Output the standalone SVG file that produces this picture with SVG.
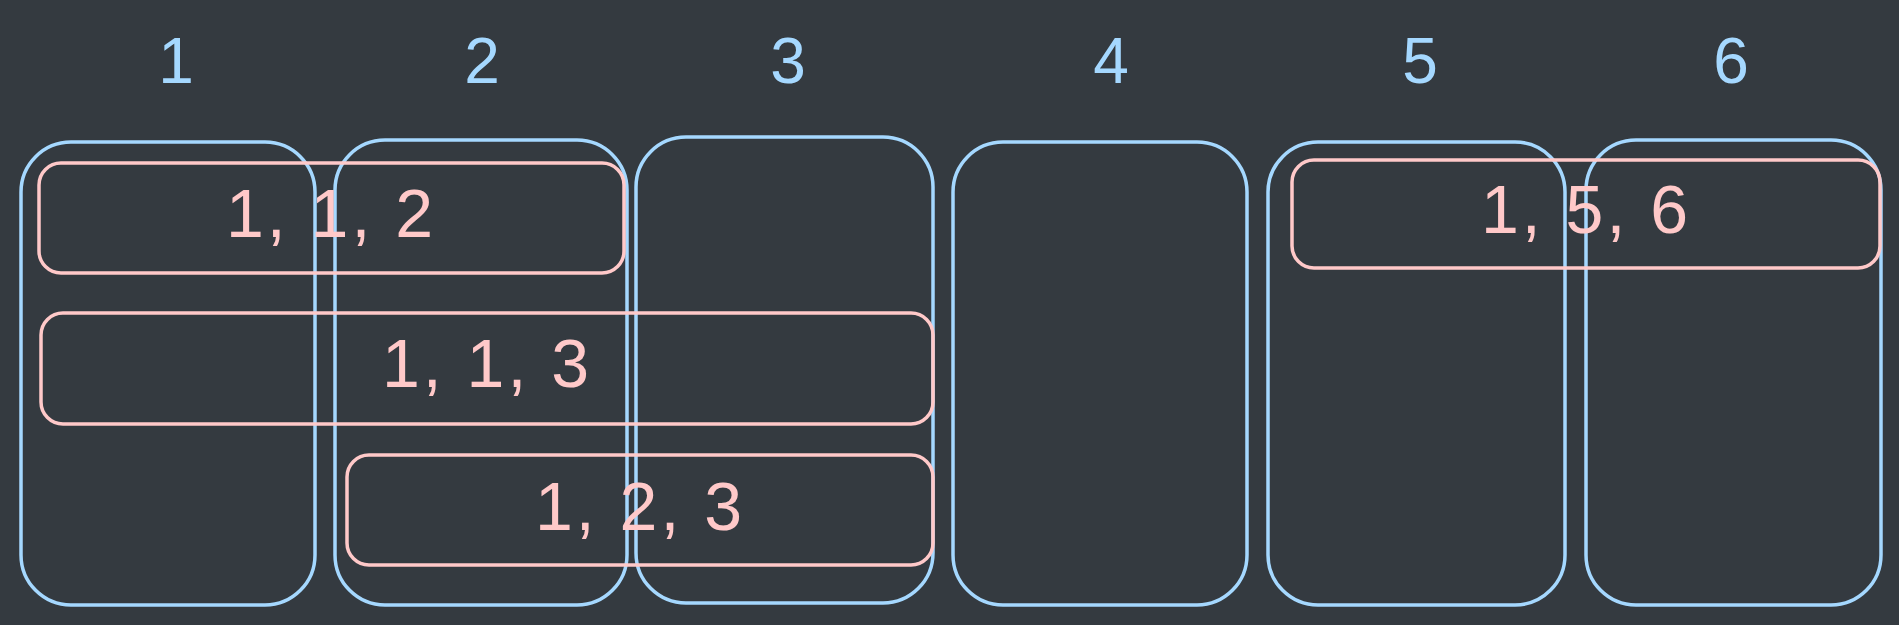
<svg xmlns="http://www.w3.org/2000/svg" width="1899" height="625" viewBox="0 0 1899 625">
<style>
.bg{fill:#343a40}
.col{fill:none;stroke:#a5d8ff;stroke-width:3.5}
.grp{fill:none;stroke:#ffc9c9;stroke-width:3.5}
.title{fill:#a5d8ff;font-family:"Liberation Sans",Arial,sans-serif;font-size:64px;text-anchor:middle}
.lbl{fill:#ffc9c9;font-family:"Liberation Sans",Arial,sans-serif;font-size:68px;text-anchor:middle;letter-spacing:3px}
</style>
<rect class="bg" x="0" y="0" width="1899" height="625"/>
<g id="col1"><rect class="col" x="21" y="142" width="294" height="463" rx="50"/><text class="title" x="176" y="83">1</text></g>
<g id="col2"><rect class="col" x="335" y="140" width="292" height="465" rx="50"/><text class="title" x="482" y="83">2</text></g>
<g id="col3"><rect class="col" x="636" y="137" width="297" height="466" rx="50"/><text class="title" x="788" y="83">3</text></g>
<g id="col4"><rect class="col" x="953" y="142" width="294" height="463" rx="50"/><text class="title" x="1111" y="83">4</text></g>
<g id="col5"><rect class="col" x="1268" y="142" width="297" height="463" rx="50"/><text class="title" x="1420" y="83">5</text></g>
<g id="col6"><rect class="col" x="1586" y="140" width="295" height="465" rx="50"/><text class="title" x="1731" y="83">6</text></g>
<g id="group112"><rect class="grp" x="39" y="163" width="585" height="110" rx="22"/><text class="lbl" x="331" y="237">1, 1, 2</text></g>
<g id="group113"><rect class="grp" x="41" y="313" width="892" height="111" rx="22"/><text class="lbl" x="487" y="387">1, 1, 3</text></g>
<g id="group123"><rect class="grp" x="347" y="455" width="586" height="110" rx="22"/><text class="lbl" x="640" y="530">1, 2, 3</text></g>
<g id="group156"><rect class="grp" x="1292" y="160" width="588" height="108" rx="22"/><text class="lbl" x="1586" y="233">1, 5, 6</text></g>
</svg>
